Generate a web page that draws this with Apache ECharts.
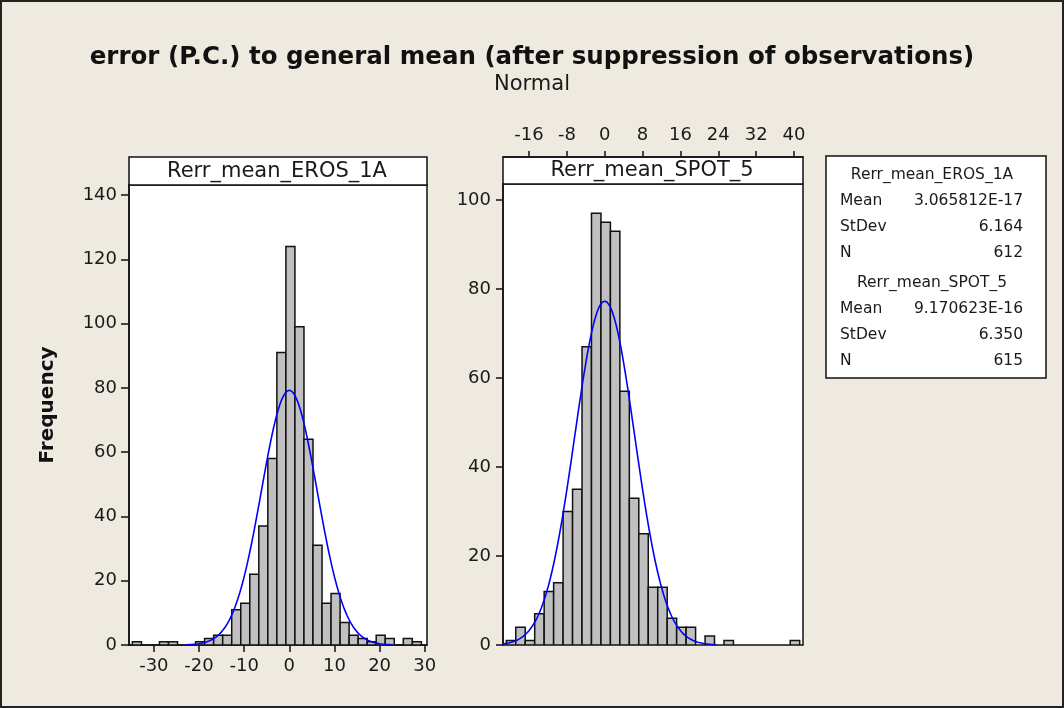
<!DOCTYPE html>
<html>
<head>
<meta charset="utf-8">
<script src="https://cdn.jsdelivr.net/npm/echarts@6.0.0/dist/echarts.min.js"></script>
<style>
html,body{margin:0;padding:0;background:#EEEAE0;}
#chart{width:1064px;height:708px;}
</style>
</head>
<body>
<div id="chart"></div>
<script>
// ---------- data ----------
const titleText = 'error (P.C.) to general mean (after suppression of observations)';
const subtitleText = 'Normal';
const yAxisTitle = 'Frequency';
const panelNames = ['Rerr_mean_EROS_1A', 'Rerr_mean_SPOT_5'];

const binWidth = 2;
// Rerr_mean_EROS_1A histogram: first bin lower edge and counts per bin
const erosFirstEdge = -34.75;
const erosCounts = [1,0,0,1,1,0,0,1,2,3,3,11,13,22,37,58,91,124,99,64,31,13,16,7,3,2,1,3,2,0,2,1];
// Rerr_mean_SPOT_5 histogram
const spotFirstEdge = -20.8;
const spotCounts = [1,4,1,7,12,14,30,35,67,97,95,93,57,33,25,13,13,6,4,4,0,2,0,1,0,0,0,0,0,0,1];

// summary statistics (legend)
const erosMean = 3.065812E-17, erosStDev = 6.164, erosN = 612;
const spotMean = 9.170623E-16, spotStDev = 6.350, spotN = 615;
const erosMeanText = '3.065812E-17', erosStDevText = '6.164', erosNText = '612';
const spotMeanText = '9.170623E-16', spotStDevText = '6.350', spotNText = '615';

// tick labels
const erosXTicks = [-30,-20,-10,0,10,20,30];
const spotXTicks = [-16,-8,0,8,16,24,32,40];
const erosYTicks = [0,20,40,60,80,100,120,140];
const spotYTicks = [0,20,40,60,80,100];

// ---------- helpers ----------
function histData(firstEdge, counts){
  const out = [];
  counts.forEach((c,i)=>{ if(c>0) out.push([firstEdge+i*binWidth, firstEdge+(i+1)*binWidth, c]); });
  return out;
}
function normalCurve(mean, sd, n){
  const pts = [];
  const lo = mean-3.7*sd, hi = mean+3.7*sd, steps = 200;
  for(let i=0;i<=steps;i++){
    const x = lo + (hi-lo)*i/steps;
    const z = (x-mean)/sd;
    pts.push([x, n*binWidth*Math.exp(-0.5*z*z)/(sd*Math.sqrt(2*Math.PI))]);
  }
  return pts;
}
function renderBar(params, api){
  const p0 = api.coord([api.value(0), api.value(2)]);
  const p1 = api.coord([api.value(1), 0]);
  return {type:'rect', shape:{x:p0[0], y:p0[1], width:p1[0]-p0[0], height:p1[1]-p0[1]},
    style:{fill:'#C0C0C0', stroke:'#111', lineWidth:1.5}};
}

const FONT = '"DejaVu Sans", Verdana, sans-serif';
const axisTxt = {color:'#1a1a1a', fontSize:18, fontFamily:FONT};
const lineBlack = {onZero:false, lineStyle:{color:'#111', width:1.5}};

const chart = echarts.init(document.getElementById('chart'), null, {renderer:'canvas'});

const legendX0 = 826, legendY0 = 156;
const legendRows = [
  {t:panelNames[0], center:true, y:175},
  {l:'Mean', r:erosMeanText, y:201},
  {l:'StDev', r:erosStDevText, y:227},
  {l:'N', r:erosNText, y:253},
  {t:panelNames[1], center:true, y:283},
  {l:'Mean', r:spotMeanText, y:309},
  {l:'StDev', r:spotStDevText, y:335},
  {l:'N', r:spotNText, y:361}
];
const legendGraphics = [{type:'rect', shape:{x:legendX0, y:legendY0, width:220, height:222},
  style:{fill:'#fff', stroke:'#111', lineWidth:1.5}}];
legendRows.forEach(r=>{
  const f = {fontSize:15.5, fontFamily:FONT, fill:'#1a1a1a', verticalAlign:'middle'};
  if(r.center){
    legendGraphics.push({type:'text', x:932, y:r.y, style:Object.assign({text:r.t, align:'center'}, f)});
  } else {
    legendGraphics.push({type:'text', x:840, y:r.y, style:Object.assign({text:r.l, align:'left'}, f)});
    legendGraphics.push({type:'text', x:1023, y:r.y, style:Object.assign({text:r.r, align:'right'}, f)});
  }
});

const option = {
  backgroundColor:'#EEEAE0',
  animation:false,
  title:{
    text:titleText, subtext:subtitleText, left:'center', top:40, itemGap:4,
    textStyle:{fontSize:24.5, fontWeight:'bold', color:'#111', fontFamily:FONT},
    subtextStyle:{fontSize:21, color:'#1a1a1a', fontFamily:FONT}
  },
  grid:[
    {left:129, top:185, width:298, height:460, show:true, backgroundColor:'#fff', borderColor:'#111', borderWidth:1.5},
    {left:503, top:184, width:300, height:461, show:true, backgroundColor:'#fff', borderColor:'#111', borderWidth:1.5}
  ],
  xAxis:[
    {gridIndex:0, type:'value', min:-35.5, max:30.5, position:'bottom',
     axisLine:Object.assign({show:true}, lineBlack),
     axisTick:{show:true, inside:false, length:7, customValues:erosXTicks, lineStyle:{color:'#111', width:1.5}},
     axisLabel:Object.assign({show:true, margin:12, customValues:erosXTicks}, axisTxt),
     splitLine:{show:false}},
    {gridIndex:1, type:'value', min:-21.5, max:41.9, position:'top', offset:27,
     axisLine:Object.assign({show:true}, lineBlack),
     axisTick:{show:true, inside:false, length:6, customValues:spotXTicks, lineStyle:{color:'#111', width:1.5}},
     axisLabel:Object.assign({show:true, margin:13, customValues:spotXTicks}, axisTxt),
     splitLine:{show:false}}
  ],
  yAxis:[
    {gridIndex:0, type:'value', min:0, max:143.1, position:'left',
     axisLine:Object.assign({show:true}, lineBlack),
     axisTick:{show:true, inside:false, length:8, customValues:erosYTicks, lineStyle:{color:'#111', width:1.5}},
     axisLabel:Object.assign({show:true, margin:12, customValues:erosYTicks}, axisTxt),
     splitLine:{show:false}},
    {gridIndex:1, type:'value', min:0, max:103.6, position:'left',
     axisLine:Object.assign({show:true}, lineBlack),
     axisTick:{show:true, inside:false, length:7, customValues:spotYTicks, lineStyle:{color:'#111', width:1.5}},
     axisLabel:Object.assign({show:true, margin:12, customValues:spotYTicks}, axisTxt),
     splitLine:{show:false}}
  ],
  series:[
    {type:'custom', name:panelNames[0], xAxisIndex:0, yAxisIndex:0, renderItem:renderBar,
     encode:{x:[0,1], y:2}, data:histData(erosFirstEdge, erosCounts), clip:true, z:2},
    {type:'line', xAxisIndex:0, yAxisIndex:0, data:normalCurve(erosMean, erosStDev, erosN),
     showSymbol:false, smooth:false, clip:true, lineStyle:{color:'#0000FF', width:1.6}, z:3, silent:true},
    {type:'custom', name:panelNames[1], xAxisIndex:1, yAxisIndex:1, renderItem:renderBar,
     encode:{x:[0,1], y:2}, data:histData(spotFirstEdge, spotCounts), clip:true, z:2},
    {type:'line', xAxisIndex:1, yAxisIndex:1, data:normalCurve(spotMean, spotStDev, spotN),
     showSymbol:false, smooth:false, clip:true, lineStyle:{color:'#0000FF', width:1.6}, z:3, silent:true}
  ],
  graphic:[
    {type:'rect', shape:{x:1, y:1, width:1062, height:706}, style:{fill:null, stroke:'#222', lineWidth:2}, z:100},
    {type:'rect', shape:{x:129, y:157, width:298, height:28}, style:{fill:'#fff', stroke:'#111', lineWidth:1.5}},
    {type:'text', x:277, y:171.5, style:{text:panelNames[0], align:'center', verticalAlign:'middle', fontSize:21, fontFamily:FONT, fill:'#1a1a1a'}},
    {type:'rect', shape:{x:503, y:157, width:300, height:27}, style:{fill:'#fff', stroke:'#111', lineWidth:1.5}},
    {type:'text', x:652, y:171, style:{text:panelNames[1], align:'center', verticalAlign:'middle', fontSize:21, fontFamily:FONT, fill:'#1a1a1a'}},
    {type:'text', x:48, y:405, rotation:Math.PI/2, style:{text:yAxisTitle, align:'center', verticalAlign:'middle', fontSize:20, fontWeight:'bold', fontFamily:FONT, fill:'#111'}}
  ].concat(legendGraphics)
};
chart.setOption(option);
</script>
</body>
</html>
